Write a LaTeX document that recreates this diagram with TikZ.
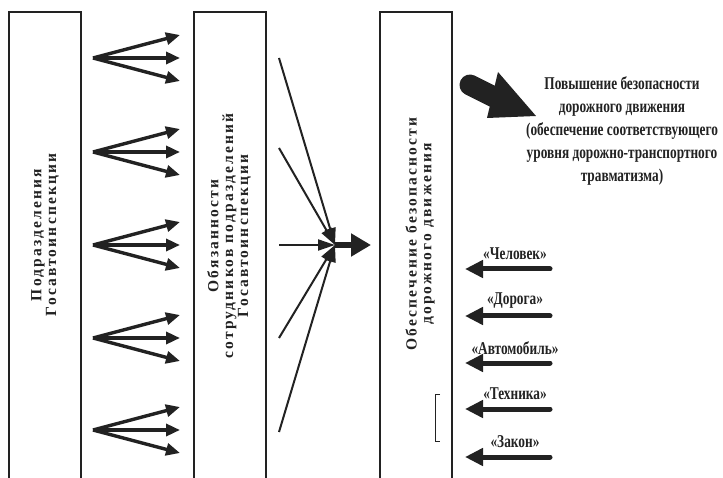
\documentclass[tikz,border=0pt]{standalone}
\usepackage{fontspec}
\setmainfont{Liberation Serif}
\newfontfamily\narrowfont[FakeStretch=0.74]{Liberation Serif}
\newfontfamily\spacedfont[LetterSpace=14]{Liberation Serif}
\usetikzlibrary{arrows.meta}

\definecolor{ink}{HTML}{222222}

\tikzset{
  column/.style={draw=ink, line width=2pt, minimum width=72pt, minimum height=500pt,
    anchor=north west, inner sep=0pt},
  coltext/.style={rotate=90, align=center, text=ink,
    font=\spacedfont\bfseries\fontsize{15.5pt}{14.8pt}\selectfont},
  fanarrow/.style={draw=ink, line width=3.4pt, -{Triangle[length=14pt,width=12pt]}},
  thinarrow/.style={draw=ink, line width=2pt, -{Triangle[length=17pt,width=11pt]}},
  thickarrow/.style={draw=ink, line width=6pt, -{Triangle[length=20pt,width=22pt]}},
  factorarrow/.style={draw=ink, line width=5pt, line cap=round,
    -{Triangle[length=18pt,width=17pt]}},
  factorlabel/.style={text=ink, inner sep=0pt,
    font=\narrowfont\bfseries\fontsize{18pt}{20pt}\selectfont},
  goaltext/.style={text=ink, align=center, inner sep=0pt,
    font=\narrowfont\bfseries\fontsize{18pt}{23pt}\selectfont}
}

\begin{document}
\begin{tikzpicture}[x=1pt,y=-1pt]
\useasboundingbox (0,0) rectangle (723,478);
\clip (0,0) rectangle (723,478);
\fill[white] (0,0) rectangle (723,478);

% the three columns, open towards the bottom edge
\node[column] (units) at (8,11) {};
\node[column] (duties) at (193,11) {};
\node[column] (safety) at (379,11) {};

\node[coltext] (unitsT) at (45,235) {Подразделения\\Госавтоинспекции};
\node[coltext] (dutiesT) at (229,236) {Обязанности\\сотрудников подразделений\\Госавтоинспекции};
\node[coltext] (safetyT) at (420,234) {Обеспечение безопасности\\дорожного движения};

% fans of arrows between the first two columns
\foreach \y [count=\i] in {58,152,245,338,430} {
  \coordinate (o\i) at (93,\y);
  \foreach \d [count=\j] in {-23,0,23} {
    \coordinate (t\i\j) at (180,\y+\d);
    \draw[fanarrow] (o\i) -- (t\i\j);
  }
}

% converging lines towards the third column
\coordinate (hub) at (335,245);
\foreach \y [count=\i] in {58,148,245,338,432} {
  \coordinate (s\i) at (279,\y);
  \draw[thinarrow] (s\i) -- (hub);
}
\coordinate (hubout) at (371,245);
\draw[thickarrow] (hub) -- (hubout);

% block arrow towards the result
\coordinate (tail) at (470,85);
\coordinate (neck) at (496,98);
\draw[ink, line width=21pt, line cap=round] (tail) -- (neck);
\fill[ink] (498,72) -- (536,116) -- (487,118) -- cycle;

\node[goaltext] (goal) at (622,131) {Повышение безопасности\\дорожного движения\\(обеспечение соответствующего\\уровня дорожно-транспортного\\травматизма)};

% factors acting on road safety
\foreach \y/\t [count=\i] in {269/«Человек»,316/«Дорога»,363/«Автомобиль»,409/«Техника»,457/«Закон»} {
  \coordinate (fs\i) at (550,\y);
  \coordinate (fe\i) at (465,\y);
  \draw[factorarrow] (fs\i) -- (fe\i);
  \node[factorlabel] (fl\i) at (515,\y-15) {\t};
}

% small bracket
\draw[ink, line width=1pt] (440,394) -- (435,394) -- (435,441) -- (440,441);
\end{tikzpicture}
\end{document}
